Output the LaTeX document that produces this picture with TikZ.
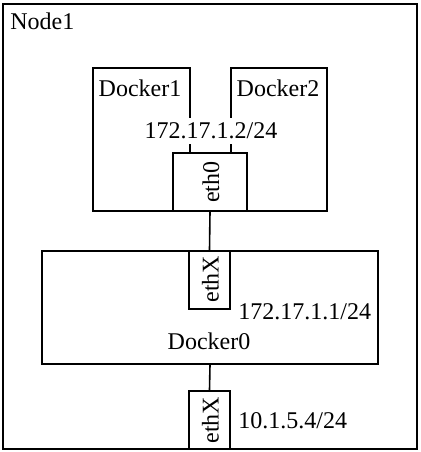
\documentclass[tikz,border=0pt]{standalone}
\usepackage{fontspec}
\setmainfont{Liberation Serif}
\begin{document}
\begin{tikzpicture}[x=0.5pt,y=-0.5pt,
  box/.style={draw, line width=0.8pt, inner sep=0pt},
  lbl/.style={font=\fontsize{12}{14}\selectfont, inner sep=0pt},
  rlbl/.style={lbl, rotate=90},
  wire/.style={draw, line width=0.8pt}]
\useasboundingbox (0,0) rectangle (420,452);
% outer host
\node[box, minimum width=207pt, minimum height=222.5pt] (node1) at (210,226.5) {};
\node[lbl, anchor=base west] (node1lbl) at (10,29) {Node1};
% containers
\node[box, minimum width=48.5pt, minimum height=71.5pt] (docker1) at (141.5,139.5) {};
\node[box, minimum width=48pt, minimum height=71.5pt] (docker2) at (279,139.5) {};
\node[lbl, anchor=base] (d1lbl) at (140,96) {Docker1};
\node[lbl, anchor=base] (d2lbl) at (278,96) {Docker2};
\node[lbl, fill=white, inner xsep=1pt, inner ysep=1.5pt, text height=9pt, text depth=1pt] (ip1) at (211,130.5) {172.17.1.2/24};
\node[box, fill=white, minimum width=37pt, minimum height=29pt] (eth0) at (210,182) {};
\node[rlbl] (eth0lbl) at (211,182) {eth0};
% bridge
\node[box, minimum width=168pt, minimum height=56.5pt] (docker0) at (210,307.5) {};
\node[lbl, anchor=base] (d0lbl) at (209,349) {Docker0};
\node[box, minimum width=20.5pt, minimum height=29pt] (ethx1) at (209.5,280) {};
\node[rlbl] (ethx1lbl) at (210.5,279) {ethX};
\node[lbl, anchor=base west] (ip2) at (238,319) {172.17.1.1/24};
% host nic
\node[box, minimum width=20.5pt, minimum height=29pt] (ethx2) at (209.5,420) {};
\node[rlbl] (ethx2lbl) at (210.5,420) {ethX};
\node[lbl, anchor=base west] (ip3) at (238,428) {10.1.5.4/24};
% connectors
\draw[wire] (eth0.south) -- (ethx1.north);
\draw[wire] (docker0.south) -- (ethx2.north);
\end{tikzpicture}
\end{document}
